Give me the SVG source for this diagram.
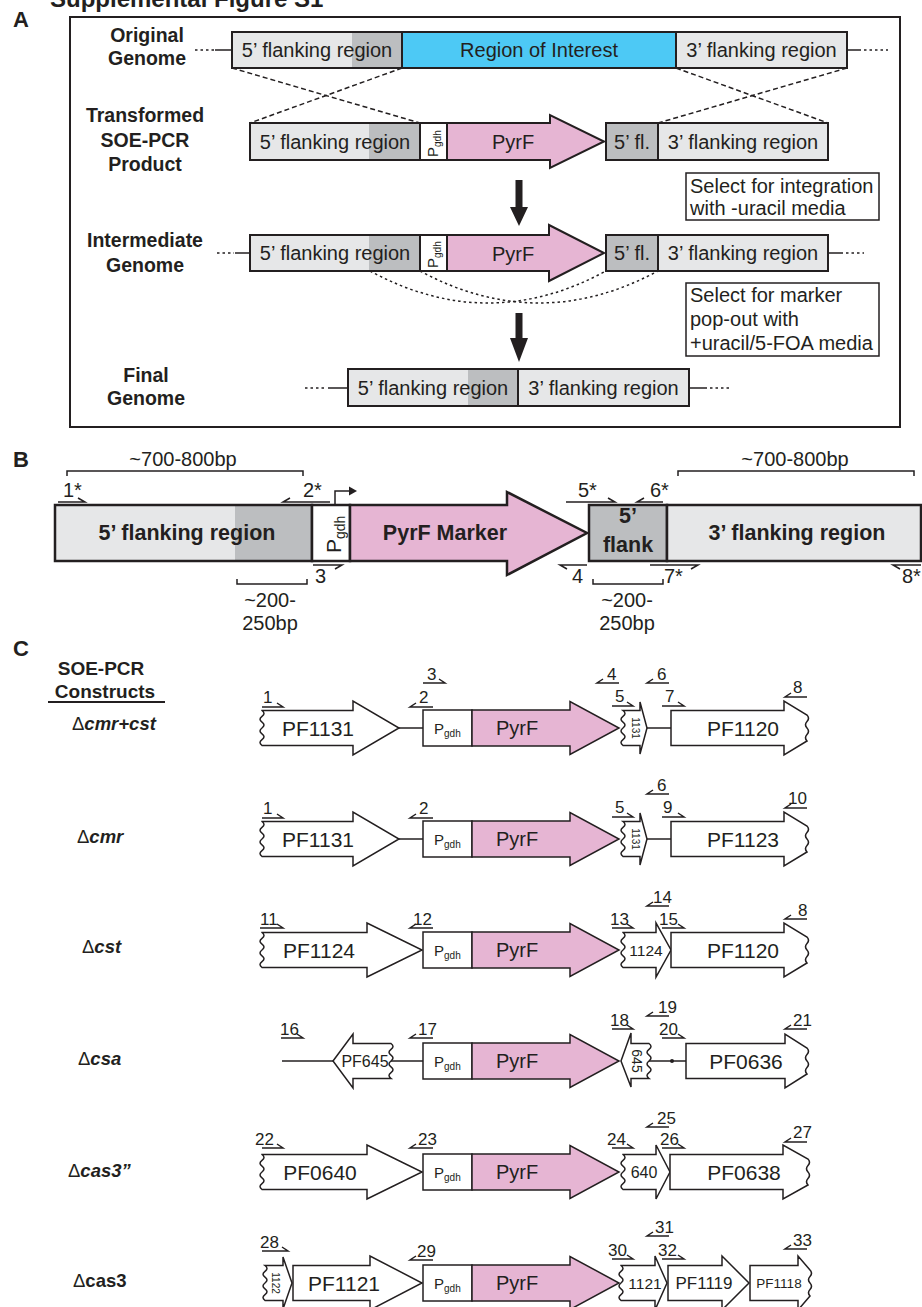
<svg xmlns="http://www.w3.org/2000/svg" width="922" height="1307" viewBox="0 0 922 1307">
<style>
text{font-family:"Liberation Sans",Arial,Helvetica,sans-serif;fill:#231F20}
.b{font-weight:bold}
.m{text-anchor:middle}
.lg{fill:#E6E7E8}
.dg{fill:#BCBEC0}
.bl{fill:#4DC9F5}
.pk{fill:#E6B5D3}
.wh{fill:#fff}
.ol{fill:none;stroke:#231F20;stroke-width:2}
.st{stroke:#231F20;stroke-width:2}
.gene{fill:#fff;stroke:#231F20;stroke-width:1.5}
.pr{fill:none;stroke:#231F20;stroke-width:1.5}
.ln{fill:none;stroke:#231F20;stroke-width:1.5}
.dash{fill:none;stroke:#231F20;stroke-width:1.5;stroke-dasharray:5 3}
.dot{fill:none;stroke:#231F20;stroke-width:1.5;stroke-dasharray:2.5 3}
.rt{font-size:20px}
.lab{font-size:19.5px;font-weight:bold}
.pn{font-size:17px}
.gn{font-size:21px}
.rl{font-size:18.5px;font-weight:bold;font-style:italic}
</style>
<defs>
<g id="pgblock">
<rect x="423" y="-18" width="49" height="36" class="gene"/>
<path d="M472,-18H570V-26.5L619,0L570,26.5V18H472Z" class="pk" stroke="#231F20" stroke-width="1.5"/>
<text x="434" y="6" font-size="15">P<tspan font-size="10" dy="3">gdh</tspan></text>
<text x="517" y="7" class="m" font-size="20">PyrF</text>
</g>
</defs>

<!-- Title and panel letters -->
<text x="50" y="7" class="b" font-size="24">Supplemental Figure S1</text>
<text x="13" y="27" class="b" font-size="22">A</text>
<text x="13" y="467" class="b" font-size="22">B</text>
<text x="13" y="656" class="b" font-size="22">C</text>

<!-- ============ PANEL A ============ -->
<rect id="panelA-frame" x="70" y="17" width="830" height="410" class="ol"/>

<g id="labels-A">
<text x="147" y="42" class="lab m">Original</text>
<text x="147" y="65" class="lab m">Genome</text>
<text x="145" y="122" class="lab m">Transformed</text>
<text x="145" y="147" class="lab m">SOE-PCR</text>
<text x="145" y="171" class="lab m">Product</text>
<text x="145" y="247" class="lab m">Intermediate</text>
<text x="145" y="272" class="lab m">Genome</text>
<text x="146" y="382" class="lab m">Final</text>
<text x="146" y="405" class="lab m">Genome</text>
</g>

<g id="connectors">
<!-- genome ends -->
<line x1="195" y1="50" x2="214" y2="50" class="dot"/>
<line x1="215" y1="50" x2="232" y2="50" class="ln"/>
<line x1="847" y1="50" x2="861" y2="50" class="ln"/>
<line x1="864" y1="50" x2="888" y2="50" class="dot"/>
<line x1="217" y1="253" x2="234" y2="253" class="dot"/>
<line x1="235" y1="253" x2="250" y2="253" class="ln"/>
<line x1="828" y1="253" x2="843" y2="253" class="ln"/>
<line x1="846" y1="253" x2="864" y2="253" class="dot"/>
<line x1="305" y1="388" x2="326" y2="388" class="dot"/>
<line x1="328" y1="388" x2="348" y2="388" class="ln"/>
<line x1="689" y1="388" x2="707" y2="388" class="ln"/>
<line x1="710" y1="388" x2="731" y2="388" class="dot"/>
<!-- crossovers -->
<line x1="232" y1="68" x2="420" y2="123" class="dash"/>
<line x1="402" y1="68" x2="250" y2="123" class="dash"/>
<line x1="676" y1="68" x2="828" y2="123" class="dash"/>
<line x1="847" y1="68" x2="658" y2="123" class="dash"/>
<!-- pop-out loops -->
<path d="M370,271Q488,335 606,271" class="dot"/>
<path d="M420,271Q539,335 658,271" class="dot"/>
<!-- process arrows -->
<polygon points="515.5,180 522.5,180 522.5,207 528,207 519,226 510,207 515.5,207" fill="#231F20"/>
<polygon points="515.5,313 522.5,313 522.5,338 528,338 519,362 510,338 515.5,338" fill="#231F20"/>
<!-- panel C linkers -->
<line x1="399" y1="728" x2="423" y2="728" class="ln"/>
<line x1="647" y1="728" x2="671" y2="728" class="ln"/>
<line x1="399" y1="839" x2="423" y2="839" class="ln"/>
<line x1="647" y1="839" x2="671" y2="839" class="ln"/>
<line x1="282" y1="1061" x2="333" y2="1061" class="ln"/>
<line x1="391" y1="1061" x2="423" y2="1061" class="ln"/>
<line x1="649" y1="1061" x2="686" y2="1061" class="ln"/>
<circle cx="672" cy="1061" r="2" fill="#231F20"/>
</g>

<!-- Row 1: original genome -->
<g id="orig-5f">
<rect x="232" y="32" width="170" height="36" class="lg"/>
<rect x="352" y="32" width="50" height="36" class="dg"/>
<rect x="232" y="32" width="170" height="36" class="ol"/>
<text x="317" y="57" class="rt m">5’ flanking region</text>
</g>
<g id="orig-roi">
<rect x="402" y="32" width="274" height="36" class="bl st"/>
<text x="539" y="57" class="rt m">Region of Interest</text>
</g>
<g id="orig-3f">
<rect x="676" y="32" width="171" height="36" class="lg st"/>
<text x="761.5" y="57" class="rt m">3’ flanking region</text>
</g>

<!-- Row 2: SOE-PCR product -->
<g id="soe-5f">
<rect x="250" y="123" width="170" height="37" class="lg"/>
<rect x="369" y="123" width="51" height="37" class="dg"/>
<rect x="250" y="123" width="170" height="37" class="ol"/>
<text x="335" y="148.5" class="rt m">5’ flanking region</text>
</g>
<g id="soe-pgdh">
<rect x="420" y="123" width="27" height="37" class="wh st"/>
<text transform="translate(438,157) rotate(-90)" font-size="15">P<tspan font-size="10" dy="3">gdh</tspan></text>
</g>
<g id="soe-pyrf">
<polygon points="447,123 550,123 550,115 604,141.5 550,168 550,160 447,160" class="pk st"/>
<text x="513" y="149" class="rt m">PyrF</text>
</g>
<g id="soe-5fl">
<rect x="606" y="123" width="52" height="37" class="dg st"/>
<text x="632" y="148.5" class="rt m">5’ fl.</text>
</g>
<g id="soe-3f">
<rect x="658" y="123" width="170" height="37" class="lg st"/>
<text x="743" y="148.5" class="rt m">3’ flanking region</text>
</g>
<g id="note-1">
<rect x="686" y="173" width="193" height="47" class="wh" stroke="#231F20" stroke-width="1.5"/>
<text x="690" y="193" class="rt">Select for integration</text>
<text x="690" y="215" class="rt">with -uracil media</text>
</g>

<!-- Row 3: intermediate genome -->
<g id="int-5f">
<rect x="250" y="235" width="170" height="36" class="lg"/>
<rect x="369" y="235" width="51" height="36" class="dg"/>
<rect x="250" y="235" width="170" height="36" class="ol"/>
<text x="335" y="260" class="rt m">5’ flanking region</text>
</g>
<g id="int-pgdh">
<rect x="420" y="235" width="27" height="36" class="wh st"/>
<text transform="translate(438,268) rotate(-90)" font-size="15">P<tspan font-size="10" dy="3">gdh</tspan></text>
</g>
<g id="int-pyrf">
<polygon points="447,235 549,235 549,225 604,253 549,281 549,271 447,271" class="pk st"/>
<text x="513" y="260.5" class="rt m">PyrF</text>
</g>
<g id="int-5fl">
<rect x="606" y="235" width="52" height="36" class="dg st"/>
<text x="632" y="260" class="rt m">5’ fl.</text>
</g>
<g id="int-3f">
<rect x="658" y="235" width="170" height="36" class="lg st"/>
<text x="743" y="260" class="rt m">3’ flanking region</text>
</g>
<g id="note-2">
<rect x="686" y="283" width="193" height="73" class="wh" stroke="#231F20" stroke-width="1.5"/>
<text x="690" y="302" class="rt">Select for marker</text>
<text x="690" y="326" class="rt">pop-out with</text>
<text x="690" y="350" class="rt">+uracil/5-FOA media</text>
</g>

<!-- Row 4: final genome -->
<g id="fin-5f">
<rect x="348" y="369" width="170" height="37" class="lg"/>
<rect x="468" y="369" width="50" height="37" class="dg"/>
<rect x="348" y="369" width="170" height="37" class="ol"/>
<text x="433" y="395" class="rt m">5’ flanking region</text>
</g>
<g id="fin-3f">
<rect x="518" y="369" width="171" height="37" class="lg st"/>
<text x="603.5" y="395" class="rt m">3’ flanking region</text>
</g>

<!-- ============ PANEL B ============ -->
<g id="panelB-brackets">
<path d="M67,476V471H303V476" class="ln"/>
<text x="183" y="466" class="rt m">~700-800bp</text>
<path d="M678,476V471H914V476" class="ln"/>
<text x="795" y="466" class="rt m">~700-800bp</text>
<path d="M237,579V584H307V579" class="ln"/>
<text x="270" y="607" class="rt m">~200-</text>
<text x="270" y="630" class="rt m">250bp</text>
<path d="M593,579V584H663V579" class="ln"/>
<text x="627" y="607" class="rt m">~200-</text>
<text x="627" y="630" class="rt m">250bp</text>
</g>
<g id="B-5f">
<rect x="55" y="505" width="257" height="56" class="lg"/>
<rect x="235" y="505" width="77" height="56" class="dg"/>
<rect x="55" y="505" width="257" height="56" fill="none" stroke="#231F20" stroke-width="2.5"/>
<text x="187" y="540" class="b m" font-size="21.5">5’ flanking region</text>
</g>
<g id="B-pgdh">
<rect x="312" y="505" width="38" height="56" class="wh" stroke="#231F20" stroke-width="2.5"/>
<text transform="translate(341,553) rotate(-90)" font-size="21">P<tspan font-size="14" dy="4">gdh</tspan></text>
<path d="M335,505V491H350" class="ln" stroke-width="2"/>
<polygon points="349,486.5 357,491 349,495.5" fill="#231F20"/>
</g>
<g id="B-pyrf">
<polygon points="350,505 507,505 507,492 587,533 507,575 507,561 350,561" class="pk" stroke="#231F20" stroke-width="2.5"/>
<text x="445" y="540" class="b m" font-size="21.5">PyrF Marker</text>
</g>
<g id="B-5fl">
<rect x="589" y="505" width="78" height="56" class="dg" stroke="#231F20" stroke-width="2.5"/>
<text x="628" y="523" class="b m" font-size="21.5">5’</text>
<text x="628" y="552" class="b m" font-size="21.5">flank</text>
</g>
<g id="B-3f">
<rect x="667" y="505" width="254" height="56" class="lg" stroke="#231F20" stroke-width="2.5"/>
<text x="797" y="540" class="b m" font-size="21.5">3’ flanking region</text>
</g>
<g id="B-primers">
<path d="M58,502H85l-7,-4M330,502H283l7,-4M313,565H342l-7,4M587,565H560l7,4M566,502H615l-7,-4M663,502H637l7,-4M650,565H698l-7,4M921,565H893l7,4" class="pr"/>
<text x="63" y="497" class="rt">1*</text>
<text x="303" y="497" class="rt">2*</text>
<text x="315" y="583" class="rt">3</text>
<text x="572" y="583" class="rt">4</text>
<text x="578" y="497" class="rt">5*</text>
<text x="650" y="497" class="rt">6*</text>
<text x="664" y="583" class="rt">7*</text>
<text x="902" y="583" class="rt">8*</text>
</g>

<!-- ============ PANEL C ============ -->
<g id="C-header">
<text x="101" y="675" class="b m" font-size="19">SOE-PCR</text>
<text x="105" y="698" class="b m" font-size="19">Constructs</text>
<line x1="48" y1="702" x2="165" y2="702" stroke="#231F20" stroke-width="2"/>
</g>
<g id="C-row-labels">
<text x="72" y="730" class="rl"><tspan font-weight="normal" font-style="normal">Δ</tspan>cmr+cst</text>
<text x="77" y="843" class="rl"><tspan font-weight="normal" font-style="normal">Δ</tspan>cmr</text>
<text x="82" y="953" class="rl"><tspan font-weight="normal" font-style="normal">Δ</tspan>cst</text>
<text x="78" y="1065" class="rl"><tspan font-weight="normal" font-style="normal">Δ</tspan>csa</text>
<text x="68" y="1177" class="rl"><tspan font-weight="normal" font-style="normal">Δ</tspan>cas3”</text>
<text x="73" y="1287" font-size="18.5" font-weight="bold"><tspan font-weight="normal">Δ</tspan>cas3</text>
</g>

<!-- Row C1: cmr+cst -->
<g id="C1" transform="translate(0,728)">
<g id="C1-PF1131"><path d="M262,-17.5H353V-27L399,0L353,27V17.5H262q-4,-2.92 0,-5.83q4,-2.92 0,-5.83q-4,-2.92 0,-5.83q4,-2.92 0,-5.83q-4,-2.92 0,-5.83q4,-2.92 0,-5.84Z" class="gene"/><text x="318" y="8" class="gn m">PF1131</text></g>
<g id="C1-pyrf"><use href="#pgblock"/></g>
<g id="C1-1131"><path d="M640,-17.5V-26L647,0L640,26V17.5H623q-4,-2.92 0,-5.83q4,-2.92 0,-5.83q-4,-2.92 0,-5.83q4,-2.92 0,-5.83q-4,-2.92 0,-5.83q4,-2.92 0,-5.84Z" class="gene"/><text transform="translate(632,0) rotate(90)" class="m" font-size="10">1131</text></g>
<g id="C1-PF1120"><path d="M671,-17.5H784V-27L807,-13q3,3.25 0,6.5q-3,3.25 0,6.5q3,3.25 0,6.5q-3,3.25 0,6.5L784,27V17.5H671Z" class="gene"/><text x="743" y="8" class="gn m">PF1120</text></g>
<g id="C1-primers">
<path d="M262,-21H283l-6,-4M433,-21H410l6,-4M423,-45H445l-6,-4M619,-45H597l6,-4M612,-22H633l-6,-4M669,-45H647l6,-4M662,-22H684l-6,-4M807,-31H785l6,-4" class="pr"/>
<text x="263" y="-25" class="pn">1</text><text x="419" y="-25" class="pn">2</text><text x="427" y="-48" class="pn">3</text><text x="607" y="-48" class="pn">4</text><text x="615" y="-26" class="pn">5</text><text x="657" y="-48" class="pn">6</text><text x="665" y="-26" class="pn">7</text><text x="793" y="-35" class="pn">8</text>
</g>
</g>

<!-- Row C2: cmr -->
<g id="C2" transform="translate(0,839)">
<g id="C2-PF1131"><path d="M262,-17.5H353V-27L399,0L353,27V17.5H262q-4,-2.92 0,-5.83q4,-2.92 0,-5.83q-4,-2.92 0,-5.83q4,-2.92 0,-5.83q-4,-2.92 0,-5.83q4,-2.92 0,-5.84Z" class="gene"/><text x="318" y="8" class="gn m">PF1131</text></g>
<g id="C2-pyrf"><use href="#pgblock"/></g>
<g id="C2-1131"><path d="M640,-17.5V-26L647,0L640,26V17.5H623q-4,-2.92 0,-5.83q4,-2.92 0,-5.83q-4,-2.92 0,-5.83q4,-2.92 0,-5.83q-4,-2.92 0,-5.83q4,-2.92 0,-5.84Z" class="gene"/><text transform="translate(632,0) rotate(90)" class="m" font-size="10">1131</text></g>
<g id="C2-PF1123"><path d="M671,-17.5H784V-27L807,-13q3,3.25 0,6.5q-3,3.25 0,6.5q3,3.25 0,6.5q-3,3.25 0,6.5L784,27V17.5H671Z" class="gene"/><text x="743" y="8" class="gn m">PF1123</text></g>
<g id="C2-primers">
<path d="M262,-21H283l-6,-4M433,-21H410l6,-4M612,-22H633l-6,-4M669,-45H647l6,-4M662,-22H684l-6,-4M807,-31H785l6,-4" class="pr"/>
<text x="263" y="-25" class="pn">1</text><text x="419" y="-25" class="pn">2</text><text x="615" y="-26" class="pn">5</text><text x="657" y="-48" class="pn">6</text><text x="663" y="-26" class="pn">9</text><text x="788" y="-35" class="pn">10</text>
</g>
</g>

<!-- Row C3: cst -->
<g id="C3" transform="translate(0,950)">
<g id="C3-PF1124"><path d="M262,-17.5H367V-27L422,0L367,27V17.5H262q-4,-2.92 0,-5.83q4,-2.92 0,-5.83q-4,-2.92 0,-5.83q4,-2.92 0,-5.83q-4,-2.92 0,-5.83q4,-2.92 0,-5.84Z" class="gene"/><text x="319" y="8" class="gn m">PF1124</text></g>
<g id="C3-pyrf"><use href="#pgblock"/></g>
<g id="C3-1124"><path d="M623,-17.5H656V-27L671,0L656,27V17.5H623q-4,-2.92 0,-5.83q4,-2.92 0,-5.83q-4,-2.92 0,-5.83q4,-2.92 0,-5.83q-4,-2.92 0,-5.83q4,-2.92 0,-5.84Z" class="gene"/><text x="646" y="6" class="m" font-size="15.5">1124</text></g>
<g id="C3-PF1120"><path d="M671,-17.5H784V-27L807,-13q3,3.25 0,6.5q-3,3.25 0,6.5q3,3.25 0,6.5q-3,3.25 0,6.5L784,27V17.5H671Z" class="gene"/><text x="743" y="8" class="gn m">PF1120</text></g>
<g id="C3-primers">
<path d="M260,-22H283l-6,-4M433,-22H410l6,-4M612,-22H633l-6,-4M669,-44H647l6,-4M662,-22H684l-6,-4M807,-31H785l6,-4" class="pr"/>
<text x="260" y="-25" class="pn">11</text><text x="413" y="-25" class="pn">12</text><text x="610" y="-25" class="pn">13</text><text x="653" y="-47" class="pn">14</text><text x="659" y="-25" class="pn">15</text><text x="798" y="-34" class="pn">8</text>
</g>
</g>

<!-- Row C4: csa -->
<g id="C4" transform="translate(0,1061)">
<g id="C4-PF645"><path d="M333,0L353,-27V-17.5H391q4,2.92 0,5.83q-4,2.92 0,5.83q4,2.92 0,5.83q-4,2.92 0,5.83q4,2.92 0,5.83q-4,2.92 0,5.84H353V27Z" class="gene"/><text x="365" y="6" class="m" font-size="16">PF645</text></g>
<g id="C4-pyrf"><use href="#pgblock"/></g>
<g id="C4-645"><path d="M621,0L631,-28V-17.5H649q4,2.92 0,5.83q-4,2.92 0,5.83q4,2.92 0,5.83q-4,2.92 0,5.83q4,2.92 0,5.83q-4,2.92 0,5.84H631V26Z" class="gene"/><text transform="translate(632,0) rotate(90)" class="m" font-size="14">645</text></g>
<g id="C4-PF0636"><path d="M686,-17.5H785V-27L807,-13q3,3.25 0,6.5q-3,3.25 0,6.5q3,3.25 0,6.5q-3,3.25 0,6.5L785,27V17.5H686Z" class="gene"/><text x="746" y="8" class="gn m">PF0636</text></g>
<g id="C4-primers">
<path d="M281,-23H303l-6,-4M433,-23H410l6,-4M612,-32H633l-6,-4M669,-45H647l6,-4M662,-23H684l-6,-4M807,-32H785l6,-4" class="pr"/>
<text x="280" y="-26" class="pn">16</text><text x="418" y="-26" class="pn">17</text><text x="610" y="-35" class="pn">18</text><text x="658" y="-48" class="pn">19</text><text x="659" y="-26" class="pn">20</text><text x="793" y="-35" class="pn">21</text>
</g>
</g>

<!-- Row C5: cas3'' -->
<g id="C5" transform="translate(0,1172)">
<g id="C5-PF0640"><path d="M262,-17.5H367V-27L422,0L367,27V17.5H262q-4,-2.92 0,-5.83q4,-2.92 0,-5.83q-4,-2.92 0,-5.83q4,-2.92 0,-5.83q-4,-2.92 0,-5.83q4,-2.92 0,-5.84Z" class="gene"/><text x="320" y="8" class="gn m">PF0640</text></g>
<g id="C5-pyrf"><use href="#pgblock"/></g>
<g id="C5-640"><path d="M623,-17.5H656V-27L670,0L656,27V17.5H623q-4,-2.92 0,-5.83q4,-2.92 0,-5.83q-4,-2.92 0,-5.83q4,-2.92 0,-5.83q-4,-2.92 0,-5.83q4,-2.92 0,-5.84Z" class="gene"/><text x="644" y="6" class="m" font-size="16">640</text></g>
<g id="C5-PF0638"><path d="M670,-17.5H783V-27L808,-13q3,3.25 0,6.5q-3,3.25 0,6.5q3,3.25 0,6.5q-3,3.25 0,6.5L783,27V17.5H670Z" class="gene"/><text x="744" y="8" class="gn m">PF0638</text></g>
<g id="C5-primers">
<path d="M262,-24H283l-6,-4M433,-24H410l6,-4M612,-24H633l-6,-4M669,-45H647l6,-4M662,-24H684l-6,-4M807,-30H785l6,-4" class="pr"/>
<text x="255" y="-27" class="pn">22</text><text x="418" y="-27" class="pn">23</text><text x="607" y="-27" class="pn">24</text><text x="657" y="-48" class="pn">25</text><text x="660" y="-27" class="pn">26</text><text x="793" y="-34" class="pn">27</text>
</g>
</g>

<!-- Row C6: cas3 -->
<g id="C6" transform="translate(0,1283)">
<g id="C6-1122"><path d="M283,-17.5V-26L292,0L283,26V17.5H265q-4,-2.92 0,-5.83q4,-2.92 0,-5.83q-4,-2.92 0,-5.83q4,-2.92 0,-5.83q-4,-2.92 0,-5.83q4,-2.92 0,-5.84Z" class="gene"/><text transform="translate(272,0) rotate(90)" class="m" font-size="10">1122</text></g>
<g id="C6-PF1121"><path d="M293,-17.5H370V-27L422,0L370,27V17.5H293Z" class="gene"/><text x="344" y="8" class="gn m">PF1121</text></g>
<g id="C6-pyrf"><use href="#pgblock"/></g>
<g id="C6-1121"><path d="M621,-17.5H655V-27L667,0L655,27V17.5H621q-4,-2.92 0,-5.83q4,-2.92 0,-5.83q-4,-2.92 0,-5.83q4,-2.92 0,-5.83q-4,-2.92 0,-5.83q4,-2.92 0,-5.84Z" class="gene"/><text x="645" y="6" class="m" font-size="15.5">1121</text></g>
<g id="C6-PF1119"><path d="M668,-17.5H722V-27L749,0L722,27V17.5H668Z" class="gene"/><text x="704" y="6" class="m" font-size="17">PF1119</text></g>
<g id="C6-PF1118"><path d="M750,-17.5H798V-27L810,-13q3,3.25 0,6.5q-3,3.25 0,6.5q3,3.25 0,6.5q-3,3.25 0,6.5L798,27V17.5H750Z" class="gene"/><text x="779" y="5" class="m" font-size="13.5">PF1118</text></g>
<g id="C6-primers">
<path d="M262,-32H288l-6,-4M433,-23H410l6,-4M612,-24H633l-6,-4M669,-47H647l6,-4M662,-24H684l-6,-4M807,-34H785l6,-4" class="pr"/>
<text x="260" y="-35" class="pn">28</text><text x="417" y="-26" class="pn">29</text><text x="608" y="-27" class="pn">30</text><text x="655" y="-50" class="pn">31</text><text x="658" y="-27" class="pn">32</text><text x="793" y="-37" class="pn">33</text>
</g>
</g>
</svg>
